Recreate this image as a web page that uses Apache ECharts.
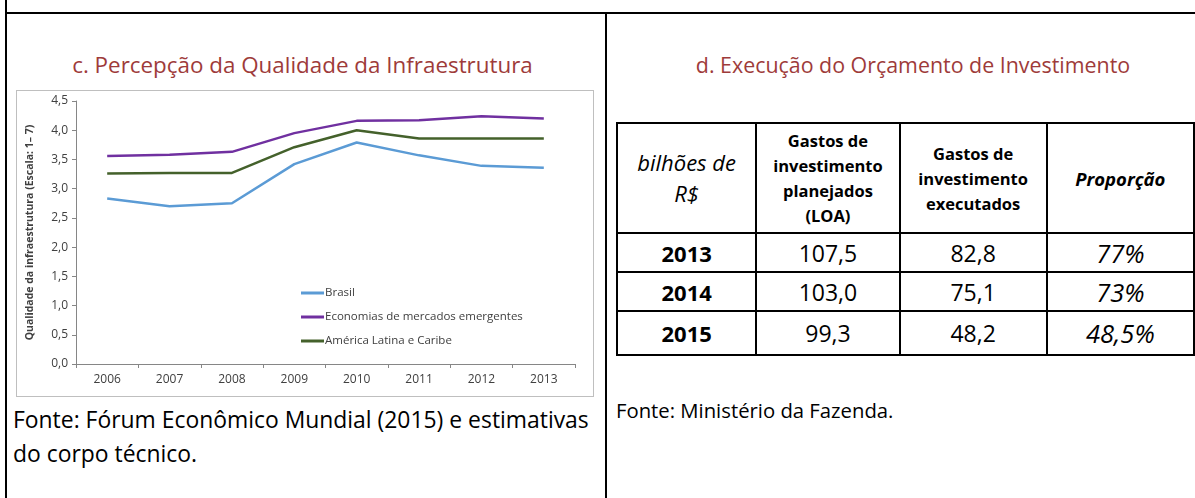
<!DOCTYPE html>
<html>
<head>
<meta charset="utf-8">
<script src="https://cdn.jsdelivr.net/npm/echarts@6/dist/echarts.min.js"></script>
<style>
  body { margin: 0; width: 1195px; height: 498px; background: #fff; position: relative; overflow: hidden;
         font-family: "Open Sans", "Noto Sans", sans-serif; }
  .ln { position: absolute; background: #000; }
  .title { position: absolute; color: #9E3B3A; font-size: 22px; text-align: center; white-space: nowrap; }
  .src { position: absolute; color: #000; white-space: nowrap; }
  #chart { position: absolute; left: 16px; top: 90px; width: 576px; height: 305px; border: 1px solid #BFBFBF; }
  table { position: absolute; left: 616px; top: 122px; border-collapse: collapse; }
  td { border: 2px solid #000; text-align: center; padding: 0; color: #000; }
  .hd { font-size: 16.5px; font-weight: bold; line-height: 25px; }
  .yr { font-weight: bold; font-size: 22px; }
  .num { font-size: 23px; }
  .pc { font-size: 25.5px; font-style: italic; }
  .it { font-style: italic; }
</style>
</head>
<body>
<div class="ln" style="left:5px;top:0;width:2px;height:498px"></div>
<div class="ln" style="left:5px;top:12px;width:1190px;height:2px"></div>
<div class="ln" style="left:605px;top:12px;width:2px;height:486px"></div>

<div class="title" style="left:14px;width:577px;top:49px;font-size:22.4px">c. Percepção da Qualidade da Infraestrutura</div>
<div class="title" style="left:607px;width:612px;top:50px;font-size:21.4px">d. Execução do Orçamento de Investimento</div>

<div id="chart"></div>
<div class="src" style="left:13px;top:403px;font-size:22.9px;line-height:34px">Fonte: Fórum Econômico Mundial (2015) e estimativas<br>do corpo técnico.</div>

<table id="tbl"></table>
<div class="src" style="left:616px;top:395px;font-size:20.3px;line-height:30px">Fonte: Ministério da Fazenda.</div>

<script>
// chart data
var years = ['2006', '2007', '2008', '2009', '2010', '2011', '2012', '2013'];
var brasil = [2.83, 2.70, 2.75, 3.42, 3.79, 3.57, 3.39, 3.36];
var emergentes = [3.56, 3.58, 3.63, 3.95, 4.16, 4.17, 4.24, 4.20];
var latam = [3.26, 3.27, 3.27, 3.71, 4.00, 3.86, 3.86, 3.86];

// table data
var tblHeader = ['bilhões de<br>R$', 'Gastos de<br>investimento<br>planejados<br>(LOA)', 'Gastos de<br>investimento<br>executados', 'Proporção'];
var tblYears = ['2013', '2014', '2015'];
var planejados = ['107,5', '103,0', '99,3'];
var executados = ['82,8', '75,1', '48,2'];
var proporcao = ['77%', '73%', '48,5%'];

var colW = [143, 144, 148, 150];
var html = '<tr style="height:110px">' +
  '<td class="it" style="font-size:22px;line-height:31px;width:' + colW[0] + 'px">' + tblHeader[0] + '</td>' +
  '<td class="hd" style="width:' + colW[1] + 'px">' + tblHeader[1] + '</td>' +
  '<td class="hd" style="width:' + colW[2] + 'px">' + tblHeader[2] + '</td>' +
  '<td class="hd it" style="font-size:18.5px;width:' + colW[3] + 'px">' + tblHeader[3] + '</td></tr>';
for (var i = 0; i < tblYears.length; i++) {
  html += '<tr style="height:' + (i === 2 ? 44 : 39) + 'px">' +
    '<td class="yr">' + tblYears[i] + '</td>' +
    '<td class="num">' + planejados[i] + '</td>' +
    '<td class="num">' + executados[i] + '</td>' +
    '<td class="pc">' + proporcao[i] + '</td></tr>';
}
document.getElementById('tbl').innerHTML = html;

var myChart = echarts.init(document.getElementById('chart'));
var option = {
  animation: false,
  color: ['#5B9BD5', '#7030A0', '#44612B'],
  textStyle: { fontFamily: '"Open Sans", "Noto Sans", sans-serif' },
  grid: { left: 55, right: 18, top: 10, bottom: 32 },
  legend: {
    orient: 'vertical',
    left: 279,
    top: 190,
    icon: 'rect',
    itemWidth: 23,
    itemHeight: 3,
    itemGap: 10,
    textStyle: { fontSize: 11.5, color: '#404040', padding: [0, 0, 0, -4], lineHeight: 14 },
    data: ['Brasil', 'Economias de mercados emergentes', 'América Latina e Caribe']
  },
  xAxis: {
    type: 'category',
    data: years,
    boundaryGap: true,
    axisLine: { lineStyle: { color: '#868686' } },
    axisTick: { show: true, length: 4, lineStyle: { color: '#868686' } },
    axisLabel: { color: '#404040', fontSize: 12, margin: 10 }
  },
  yAxis: {
    type: 'value',
    min: 0,
    max: 4.5,
    interval: 0.5,
    name: 'Qualidade da infraestrutura (Escala: 1– 7)',
    nameLocation: 'middle',
    nameGap: 40,
    nameTextStyle: { fontSize: 10.5, fontWeight: 'bold', color: '#404040' },
    splitLine: { show: false },
    axisLine: { show: true, lineStyle: { color: '#868686' } },
    axisTick: { show: true, length: 4, lineStyle: { color: '#868686' } },
    axisLabel: {
      color: '#404040', fontSize: 12, margin: 8,
      formatter: function (v) { return v.toFixed(1).replace('.', ','); }
    }
  },
  series: [
    { name: 'Brasil', type: 'line', data: brasil, symbol: 'none', lineStyle: { width: 2.5 } },
    { name: 'Economias de mercados emergentes', type: 'line', data: emergentes, symbol: 'none', lineStyle: { width: 2.5 } },
    { name: 'América Latina e Caribe', type: 'line', data: latam, symbol: 'none', lineStyle: { width: 2.5 } }
  ]
};
myChart.setOption(option);
</script>
</body>
</html>
